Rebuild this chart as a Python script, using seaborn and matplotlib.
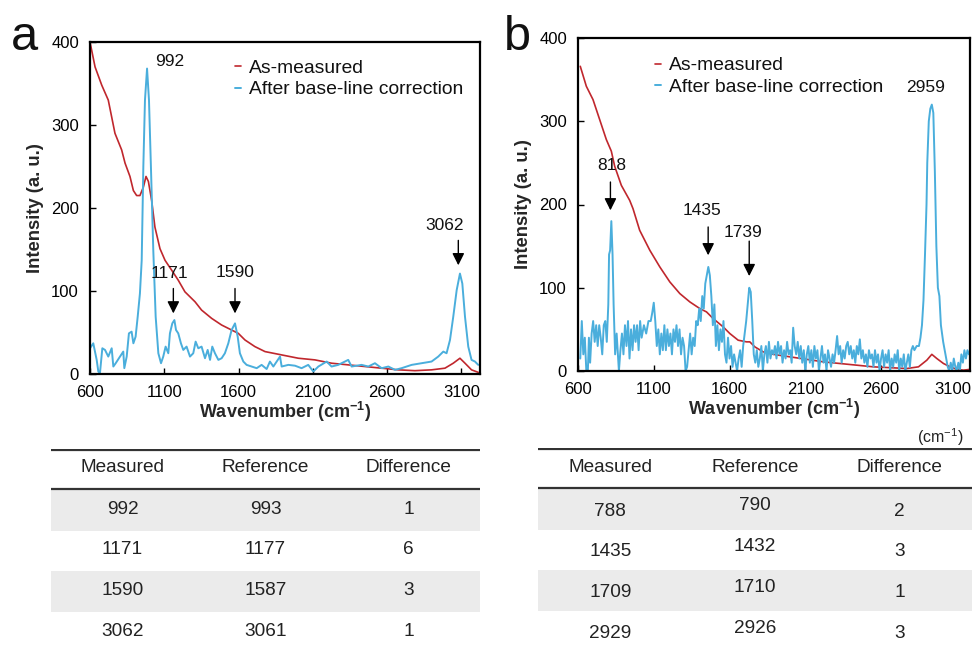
import numpy as np
import pandas as pd
import matplotlib
matplotlib.use("Agg")
import matplotlib.pyplot as plt
import matplotlib.transforms as mtransforms
import seaborn as sns

# ---------------- data ----------------
# Panel a: as-measured spectrum (wavenumber, intensity)
a_measured = [(600, 400), (634, 370), (679, 348), (723, 330), (768, 290), (813, 270), (836, 254),
              (869, 238), (892, 221), (914, 215), (936, 215), (959, 225), (977, 238), (993, 232),
              (1015, 209), (1037, 177), (1071, 151), (1105, 137), (1150, 125), (1194, 113),
              (1239, 99), (1307, 87), (1351, 77), (1419, 67), (1486, 59), (1553, 53), (1598, 49),
              (1643, 41), (1710, 33), (1778, 27), (1890, 23), (2002, 19), (2114, 17), (2226, 13),
              (2338, 11), (2451, 9), (2563, 7), (2675, 5), (2787, 4), (2899, 5), (2989, 7),
              (3045, 13), (3090, 19), (3124, 13), (3168, 5), (3213, 2)]
# Panel a: after base-line correction
a_corrected = [(600, 31), (622, 37), (645, 17), (656, 3), (667, 1), (683, 31), (701, 29), (723, 21),
               (746, 31), (757, 9), (773, 13), (802, 21), (824, 27), (831, 7), (847, 21), (862, 49),
               (880, 51), (892, 37), (907, 45), (921, 69), (936, 97), (948, 137), (959, 250),
               (970, 330), (984, 368), (997, 330), (1010, 250), (1026, 149), (1042, 69), (1060, 25),
               (1078, 13), (1093, 21), (1109, 33), (1127, 25), (1138, 49), (1154, 61), (1168, 65),
               (1179, 53), (1194, 49), (1212, 37), (1228, 29), (1250, 33), (1273, 21), (1295, 25),
               (1311, 39), (1329, 31), (1351, 33), (1374, 19), (1392, 29), (1408, 17), (1423, 33),
               (1441, 25), (1464, 17), (1486, 19), (1508, 25), (1531, 37), (1553, 53), (1576, 61),
               (1594, 45), (1609, 25), (1632, 15), (1654, 11), (1688, 9), (1722, 7), (1755, 11),
               (1789, 6), (1811, 15), (1834, 9), (1879, 21), (1890, 9), (1935, 11), (1980, 10),
               (2024, 7), (2069, 11), (2103, 3), (2137, 9), (2193, 15), (2226, 9), (2271, 11),
               (2338, 17), (2361, 9), (2428, 11), (2473, 9), (2518, 13), (2563, 7), (2608, 9),
               (2653, 5), (2697, 7), (2765, 11), (2832, 13), (2899, 15), (2944, 21), (2978, 27),
               (3000, 25), (3023, 41), (3045, 69), (3068, 101), (3090, 121), (3106, 109),
               (3124, 69), (3146, 33), (3168, 17), (3191, 15), (3213, 11)]

# Panel b: as-measured spectrum
b_measured = [(615, 366), (655, 342), (699, 326), (743, 302), (787, 278), (820, 264), (842, 246),
              (886, 223), (941, 205), (963, 195), (1007, 169), (1074, 145), (1140, 125), (1206, 107),
              (1272, 93), (1338, 83), (1404, 75), (1448, 71), (1492, 63), (1558, 53), (1602, 45),
              (1657, 37), (1712, 35), (1734, 35), (1767, 29), (1822, 23), (1889, 20), (1999, 17),
              (2109, 14), (2219, 11), (2329, 9), (2439, 7), (2549, 5), (2659, 4), (2770, 3),
              (2847, 5), (2902, 13), (2935, 20), (2968, 15), (3012, 9), (3056, 5), (3100, 2),
              (3144, 1), (3188, 2)]
# Panel b: after base-line correction
b_corrected = [(615, 15), (625, 60), (635, 20), (645, 40), (655, 0), (665, 0), (672, 40), (680, 10),
               (690, 45), (700, 60), (710, 35), (720, 55), (730, 30), (740, 55), (750, 40), (760, 20),
               (770, 55), (780, 60), (790, 35), (800, 80), (805, 140), (812, 145), (820, 180),
               (828, 140), (835, 80), (845, 20), (855, 45), (870, 0), (880, 25), (890, 45), (900, 20),
               (910, 55), (920, 30), (930, 60), (940, 15), (950, 50), (960, 25), (970, 55), (980, 35),
               (990, 55), (1000, 25), (1010, 60), (1020, 40), (1035, 55), (1050, 45), (1065, 60),
               (1080, 60), (1090, 70), (1100, 82), (1110, 60), (1120, 30), (1130, 50), (1140, 20),
               (1150, 45), (1160, 25), (1170, 55), (1180, 25), (1190, 50), (1200, 30), (1210, 45),
               (1220, 20), (1230, 50), (1240, 35), (1250, 55), (1260, 30), (1270, 50), (1280, 20),
               (1290, 40), (1300, 30), (1310, 0), (1320, 5), (1330, 25), (1340, 45), (1350, 20),
               (1360, 40), (1370, 30), (1380, 60), (1390, 55), (1400, 75), (1410, 60), (1420, 90),
               (1430, 75), (1440, 105), (1450, 115), (1460, 125), (1470, 115), (1480, 90),
               (1490, 55), (1500, 80), (1510, 30), (1520, 55), (1530, 25), (1540, 50), (1550, 35),
               (1560, 60), (1570, 20), (1580, 10), (1590, 40), (1600, 15), (1610, 30), (1620, 5),
               (1630, 20), (1640, 10), (1650, 0), (1660, 15), (1670, 25), (1680, 5), (1690, 30),
               (1700, 45), (1710, 60), (1720, 80), (1730, 100), (1740, 95), (1750, 60), (1760, 20),
               (1770, 10), (1780, 25), (1790, 5), (1800, 15), (1810, 30), (1820, 0), (1830, 20),
               (1840, 30), (1850, 10), (1860, 35), (1870, 15), (1880, 25), (1890, 20), (1900, 30),
               (1910, 15), (1920, 35), (1930, 20), (1940, 30), (1950, 10), (1960, 25), (1970, 15),
               (1980, 35), (1990, 20), (2000, 25), (2010, 10), (2020, 52), (2030, 30), (2040, 20),
               (2050, 35), (2060, 15), (2070, 30), (2080, 10), (2090, 25), (2100, 0), (2110, 20),
               (2120, 30), (2130, 10), (2140, 25), (2150, 5), (2160, 30), (2170, 15), (2180, 25),
               (2190, 0), (2200, 15), (2210, 30), (2220, 10), (2230, 20), (2240, 0), (2250, 25),
               (2260, 15), (2270, 5), (2280, 20), (2290, 10), (2300, 25), (2310, 42), (2320, 20),
               (2330, 30), (2340, 10), (2350, 25), (2360, 15), (2370, 30), (2380, 35), (2390, 20),
               (2400, 30), (2410, 15), (2420, 25), (2430, 10), (2440, 30), (2450, 20), (2460, 38),
               (2470, 15), (2480, 25), (2490, 10), (2500, 20), (2510, 5), (2520, 25), (2530, 15),
               (2540, 20), (2550, 5), (2560, 25), (2570, 10), (2580, 20), (2590, 0), (2600, 15),
               (2610, 25), (2620, 5), (2630, 20), (2640, 10), (2650, 25), (2660, 0), (2670, 15),
               (2680, 5), (2690, 20), (2700, 10), (2710, 25), (2720, 0), (2730, 15), (2740, 5),
               (2750, 20), (2760, 0), (2770, 10), (2780, 20), (2790, 5), (2800, 25), (2810, 30),
               (2820, 25), (2835, 30), (2850, 30), (2860, 40), (2870, 55), (2880, 85), (2890, 140),
               (2900, 200), (2905, 250), (2915, 300), (2925, 315), (2935, 320), (2945, 310),
               (2955, 240), (2965, 150), (2975, 100), (2985, 90), (2995, 55), (3010, 35), (3025, 20),
               (3040, 5), (3050, 0), (3060, 10), (3070, 0), (3080, 15), (3090, 5), (3100, 0),
               (3110, 10), (3120, 0), (3130, 20), (3140, 10), (3150, 25), (3160, 15), (3170, 25),
               (3180, 20), (3190, 22)]

# peak annotations: (label, text x, text y, arrow x, arrow start y, arrow tip y) ; None -> no arrow
a_peaks = [("992", 1138, 376, None, None, None),
           ("1171", 1132, 121, 1161, 103, 73),
           ("1590", 1576, 122, 1576, 103, 73),
           ("3062", 2984, 179, 3079, 161, 131)]
b_peaks = [("818", 820, 247, 814, 227, 193),
           ("1435", 1419, 193, 1459, 173, 139),
           ("1739", 1690, 166, 1730, 156, 114),
           ("2959", 2891, 340, None, None, None)]

x_ticks = [600, 1100, 1600, 2100, 2600, 3100]
y_ticks = [0, 100, 200, 300, 400]

table_header = ["Measured", "Reference", "Difference"]
a_measured_peak = [992, 1171, 1590, 3062]
a_reference_peak = [993, 1177, 1587, 3061]
a_difference = [1, 6, 3, 1]
b_measured_peak = [788, 1435, 1709, 2929]
b_reference_peak = [790, 1432, 1710, 2926]
b_difference = [2, 3, 1, 3]

# ---------------- style ----------------
sns.set_theme(style="ticks")
plt.rcParams["font.family"] = ["Liberation Sans", "DejaVu Sans"]
plt.rcParams["mathtext.fontset"] = "custom"
plt.rcParams["mathtext.rm"] = "Liberation Sans"
plt.rcParams["mathtext.bf"] = "Liberation Sans:bold"
plt.rcParams["mathtext.it"] = "Liberation Sans:italic"

RED = "#c0272d"
BLUE = "#4aaedc"
W, H = 972, 646
fig = plt.figure(figsize=(W / 100, H / 100), dpi=100)


def px_axes(x0, x1, y_top, y_bot):
    return fig.add_axes([x0 / W, 1 - y_bot / H, (x1 - x0) / W, (y_bot - y_top) / H])


def spectrum(ax, measured, corrected, peaks, xmax, leg_x, leg_y):
    m = pd.DataFrame(measured, columns=["wn", "I"])
    c = pd.DataFrame(corrected, columns=["wn", "I"])
    sns.lineplot(data=m, x="wn", y="I", ax=ax, color=RED, lw=1.2, sort=False,
                 estimator=None, label="As-measured")
    sns.lineplot(data=c, x="wn", y="I", ax=ax, color=BLUE, lw=1.4, sort=False,
                 estimator=None, label="After base-line correction")
    ax.set_xlim(600, xmax)
    ax.set_ylim(0, 400)
    ax.set_xticks(x_ticks)
    ax.set_yticks(y_ticks)
    ax.tick_params(direction="in", length=4, width=1, labelsize=12, pad=8, colors="black")
    for s in ax.spines.values():
        s.set_visible(True)
        s.set_linewidth(1.6)
        s.set_color("black")
    ax.set_xlabel(r"Wavenumber (cm$^{\mathbf{-1}}$)", fontsize=13, fontweight="bold", labelpad=0)
    ax.set_ylabel("Intensity (a. u.)", fontsize=13.3, fontweight="bold", labelpad=5)
    leg = ax.legend(loc="upper left", bbox_to_anchor=(leg_x, leg_y), frameon=False,
                    handlelength=0.3, handletextpad=0.4, labelspacing=0.2,
                    borderpad=0, borderaxespad=0, fontsize=13.9)
    for t in leg.get_texts():
        t.set_color("#111111")
    for lab, tx, ty, axx, ay0, ay1 in peaks:
        ax.text(tx, ty, lab, ha="center", va="center", fontsize=12.5, color="#111111")
        if axx is not None:
            ax.annotate("", xy=(axx, ay1), xytext=(axx, ay0),
                        arrowprops=dict(arrowstyle="-|>", color="black", lw=1.0,
                                        mutation_scale=18, shrinkA=0, shrinkB=0))


ax_a = px_axes(90, 480, 42, 374)
spectrum(ax_a, a_measured, a_corrected, a_peaks, 3225, 0.372, 0.947)
ax_b = px_axes(578, 970, 38, 371)
spectrum(ax_b, b_measured, b_corrected, b_peaks, 3187, 0.197, 0.943)

# keep the last tick label of panel b inside the figure edge
last_lab = ax_b.get_xticklabels()[-1]
last_lab.set_transform(last_lab.get_transform()
                       + mtransforms.ScaledTranslation(-4 / 100, 0, fig.dpi_scale_trans))

fig.text(24 / W, 1 - 50 / H, "a", fontsize=35, ha="center", va="baseline", color="#111111")
fig.text(517 / W, 1 - 50 / H, "b", fontsize=35, ha="center", va="baseline", color="#111111")


def table(x0, x1, y_top, measured, reference, difference, ref_shift, text_off):
    ax = px_axes(x0, x1, y_top, H)
    ax.set_xlim(0, 1)
    ax.set_ylim(H - y_top, 0)
    ax.axis("off")
    row_h = 40.7
    head_h = 40
    for i in range(len(measured)):
        if i % 2 == 0:
            ax.axhspan(head_h + 1 + i * row_h, head_h + 1 + (i + 1) * row_h,
                       color="#ebebeb", lw=0, zorder=0)
    ax.axhline(0.5, color="#333333", lw=1.6, zorder=2)
    ax.axhline(head_h, color="#333333", lw=1.6, zorder=2)
    cols = [1 / 6, 1 / 2, 5 / 6]
    for cx, h in zip(cols, table_header):
        ax.text(cx, 19, h, ha="center", va="center", fontsize=13.7, color="#222222")
    for i, vals in enumerate(zip(measured, reference, difference)):
        yc = head_h + 1 + i * row_h + text_off
        for j, (cx, v) in enumerate(zip(cols, vals)):
            dy = ref_shift if j == 1 else 0
            ax.text(cx, yc + dy, str(v), ha="center", va="center", fontsize=13.7, color="#222222")
    return ax


table(51, 480, 449, a_measured_peak, a_reference_peak, a_difference, 0, 19)
table(538, 972, 448, b_measured_peak, b_reference_peak, b_difference, -5, 22)
fig.text(963 / W, 1 - 437 / H, r"(cm$^{-1}$)", fontsize=11.5, ha="right", va="center", color="#222222")

fig.savefig("out.png", dpi=100)
